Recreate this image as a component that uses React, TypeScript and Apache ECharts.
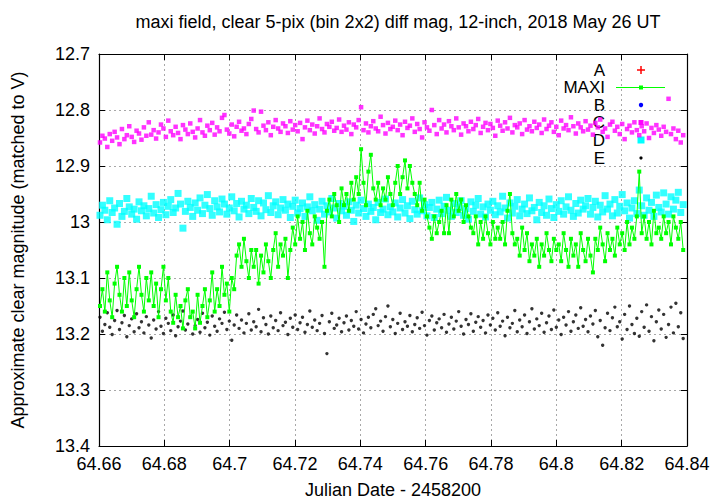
import React, { useEffect, useRef } from "react";
import * as echarts from "echarts";

// Observation grid: frames start at JD-2458200 = 64.6603, with a steady cadence
const START_JD = 64.6603;
const CADENCE = 0.000747;

const TITLE = "maxi field, clear 5-pix (bin 2x2) diff mag, 12-inch, 2018 May 26 UT";
const X_NAME = "Julian Date - 2458200";
const Y_NAME = "Approximate clear magnitude (matched to V)";
const LEGEND_NAMES = ["A", "MAXI", "B", "C", "D", "E"];

const maxiMag = [
  13.15, 13.12, 13.16, 13.09, 13.14, 13.17, 13.11, 13.08, 13.13, 13.16, 13.10, 13.15, 13.09, 13.14, 13.17, 13.12, 13.08, 13.13, 13.16, 13.10, 13.14, 13.09, 13.15, 13.11, 13.17, 13.12, 13.08, 13.14, 13.10, 13.16,
  13.18, 13.13, 13.17, 13.15, 13.19, 13.14, 13.12, 13.17, 13.16, 13.19, 13.13, 13.18, 13.15, 13.12, 13.17,
  13.14, 13.09, 13.16, 13.12, 13.15, 13.08, 13.13, 13.11, 13.16, 13.10, 13.12,
  13.06, 13.04, 13.08, 13.03, 13.07, 13.10, 13.05,
  13.08, 13.05, 13.11, 13.06, 13.09, 13.04, 13.07, 13.10,
  13.05, 13.02, 13.08, 13.04, 13.06, 13.03, 13.10, 13.05,
  13.01, 13.04, 12.99, 13.03, 13.00, 13.05, 12.98, 13.02, 13.04, 12.99, 13.01, 13.03, 13.00, 13.08,
  12.98, 12.96, 12.99, 12.95, 12.97, 13.00, 12.94, 12.97, 12.95, 12.98, 12.93, 12.96,
  12.92, 12.95, 12.87, 12.93, 12.97, 12.91, 12.88, 12.94,
  12.96, 12.93, 12.97, 12.94, 12.96, 12.92, 12.95, 12.97,
  12.93, 12.90, 12.95, 12.92, 12.89, 12.94, 12.90, 12.93,
  12.95, 12.97, 12.93, 12.98, 12.96, 12.99,
  13.01, 13.03, 12.99, 13.02, 13.00, 12.98, 13.02,
  12.97, 13.02, 12.96, 12.99, 12.95, 12.98, 12.96, 13.00, 12.97, 12.99, 13.01,
  13.02, 12.99, 13.04, 13.00, 13.03, 12.99, 13.02, 13.04, 13.00, 13.03,
  13.01, 13.03, 13.00, 13.04, 12.98, 12.95, 13.02, 13.04,
  13.03, 13.06, 13.01, 13.05, 13.02, 13.07, 13.04, 13.06,
  13.03, 13.08, 13.04, 13.06, 13.02, 13.05, 13.07, 13.03, 13.05,
  13.04, 13.07, 13.02, 13.05, 13.08, 13.03, 13.06, 13.04, 13.08, 13.02, 13.05, 13.07, 13.03,
  13.06, 13.09, 13.03, 13.05, 13.01, 13.04, 13.07, 13.02, 13.05, 13.03, 13.06, 13.01, 13.04,
  13.02, 13.05, 13.00, 13.04, 13.01, 13.03, 12.99,
  12.91,
  13.02, 12.99, 13.03, 13.00, 13.04, 12.98, 13.02, 13.01, 13.03, 12.99, 13.02, 13.00, 13.04, 12.99, 13.01, 13.03, 13.00, 13.05,
];

const cMag = [
  12.858, 12.846, 12.851, 12.866, 12.843, 12.855, 12.839, 12.849, 12.861, 12.834, 12.852, 12.845, 12.829, 12.848, 12.857, 12.837, 12.842, 12.853, 12.831, 12.846,
  12.822, 12.844, 12.836, 12.851, 12.840, 12.826, 12.833, 12.848, 12.819, 12.838, 12.845, 12.830, 12.841, 12.852, 12.827, 12.835, 12.843, 12.824, 12.839, 12.849,
  12.833, 12.818, 12.840, 12.846, 12.828, 12.836, 12.823, 12.844, 12.831, 12.838, 12.814, 12.809, 12.835, 12.842, 12.826, 12.847, 12.830, 12.821, 12.837, 12.833,
  12.843, 12.825, 12.816, 12.801, 12.834, 12.840, 12.803, 12.828, 12.836, 12.822, 12.845, 12.830, 12.818, 12.833, 12.839, 12.824, 12.829, 12.841, 12.820, 12.835,
  12.827, 12.838, 12.823, 12.852, 12.831, 12.819, 12.836, 12.826, 12.842, 12.829, 12.815, 12.834, 12.840, 12.825, 12.830, 12.821, 12.837, 12.832, 12.817, 12.839,
  12.828, 12.835, 12.822, 12.843, 12.826, 12.831, 12.818, 12.795, 12.836, 12.824, 12.840, 12.829, 12.820, 12.833, 12.838, 12.812, 12.827, 12.842, 12.823, 12.834,
  12.830, 12.819, 12.836, 12.826, 12.845, 12.821, 12.832, 12.828, 12.815, 12.839, 12.825, 12.834, 12.849, 12.822, 12.831, 12.837, 12.800, 12.827, 12.843, 12.818,
  12.833, 12.826, 12.840, 12.820, 12.829, 12.836, 12.815, 12.831, 12.844, 12.824, 12.829, 12.838, 12.821, 12.834, 12.827, 12.816, 12.841, 12.830, 12.823, 12.836,
  12.825, 12.832, 12.846, 12.819, 12.828, 12.837, 12.822, 12.833, 12.814, 12.840, 12.827, 12.831, 12.824, 12.843, 12.818, 12.835, 12.829, 12.838, 12.821, 12.832,
  12.826, 12.841, 12.817, 12.834, 12.828, 12.822, 12.839, 12.830, 12.845, 12.819, 12.833, 12.827, 12.836, 12.813, 12.829, 12.842, 12.824, 12.831, 12.838, 12.820,
  12.835, 12.828, 12.844, 12.823, 12.831, 12.817, 12.839, 12.833, 12.848, 12.826, 12.821, 12.837, 12.830, 12.843, 12.825, 12.852, 12.834, 12.828, 12.840, 12.822,
  12.836, 12.845, 12.829, 12.838, 12.824, 12.850, 12.832, 12.841, 12.827, 12.835, 12.846, 12.830, 12.839, 12.780, 12.843, 12.833, 12.852, 12.837, 12.858, 12.845,
];

const dMag = [
  12.988, 12.970, 12.979, 12.996, 12.962, 12.983, 12.975, 13.004, 12.967, 12.990, 12.981, 12.958, 12.973, 12.986, 12.977, 12.995, 12.964, 12.980, 12.971, 12.989,
  12.976, 12.954, 12.984, 12.969, 12.992, 12.978, 12.965, 12.987, 12.972, 12.960, 12.983, 12.975, 12.949, 12.968, 13.011, 12.981, 12.963, 12.974, 12.990, 12.966,
  12.979, 12.957, 12.985, 12.970, 12.951, 12.976, 12.988, 12.962, 12.973, 12.982, 12.959, 12.968, 12.986, 12.975, 12.955, 12.980, 12.967, 12.991, 12.963, 12.977,
  12.970, 12.985, 12.958, 12.974, 12.981, 12.962, 12.989, 12.966, 12.978, 12.953, 12.983, 12.971, 12.964, 12.987, 12.975, 12.960, 12.979, 12.968, 12.992, 12.972,
  12.961, 12.984, 12.976, 12.966, 12.990, 12.973, 12.955, 12.980, 12.969, 12.997, 12.977, 12.963, 12.986, 12.971, 12.982, 12.958, 12.975, 12.993, 12.967, 12.980,
  12.972, 12.988, 12.964, 12.979, 12.999, 12.970, 12.984, 12.961, 12.976, 12.990, 12.968, 12.981, 12.974, 12.996, 12.965, 12.983, 12.977, 12.959, 12.987, 12.973,
  12.982, 12.966, 12.991, 12.975, 12.960, 12.984, 12.971, 12.994, 12.963, 12.978, 12.986, 12.957, 12.980, 12.969, 12.989, 12.974, 12.965, 12.992, 12.977, 12.961,
  12.985, 12.972, 12.956, 12.979, 12.990, 12.967, 12.983, 12.974, 12.962, 12.988, 12.976, 12.995, 12.964, 12.981, 12.970, 12.958, 12.986, 12.973, 12.991, 12.968,
  12.979, 12.963, 12.987, 12.971, 12.982, 12.954, 12.975, 12.993, 12.966, 12.984, 12.972, 12.960, 12.989, 12.977, 12.968, 12.985, 12.957, 12.980, 12.974, 12.996,
  12.965, 12.983, 12.971, 12.988, 12.959, 12.976, 12.992, 12.969, 12.981, 12.962, 12.986, 12.973, 12.955, 12.979, 12.990, 12.967, 12.984, 12.961, 12.977, 12.971,
  12.958, 12.986, 12.974, 12.963, 12.991, 12.970, 12.982, 12.953, 12.977, 12.968, 12.989, 12.960, 12.984, 12.972, 12.951, 12.980, 12.966, 12.993, 12.975, 12.962,
  12.985, 12.943, 12.971, 12.988, 12.957, 12.979, 12.965, 12.990, 12.952, 12.974, 12.982, 12.948, 12.968, 12.986, 12.955, 12.977, 12.961, 12.947, 12.983, 12.969,
];

const eMag = [
  13.170, 13.195, 13.183, 13.162, 13.188, 13.201, 13.176, 13.158, 13.192, 13.180, 13.167, 13.205, 13.185, 13.173, 13.196, 13.164, 13.189, 13.178, 13.198, 13.169,
  13.184, 13.207, 13.175, 13.191, 13.160, 13.186, 13.199, 13.172, 13.181, 13.194, 13.166, 13.203, 13.187, 13.177, 13.159, 13.193, 13.182, 13.170, 13.200, 13.185,
  13.174, 13.197, 13.163, 13.189, 13.179, 13.202, 13.168, 13.186, 13.195, 13.173, 13.181, 13.161, 13.192, 13.177, 13.211, 13.184, 13.166, 13.190, 13.175, 13.198,
  13.181, 13.164, 13.193, 13.178, 13.187, 13.156, 13.196, 13.171, 13.183, 13.200, 13.168, 13.189, 13.176, 13.194, 13.162, 13.185, 13.179, 13.201, 13.172, 13.188,
  13.166, 13.192, 13.180, 13.170, 13.197, 13.183, 13.159, 13.188, 13.175, 13.194, 13.181, 13.167, 13.199, 13.235, 13.178, 13.163, 13.190, 13.184, 13.172, 13.196,
  13.180, 13.168, 13.193, 13.176, 13.186, 13.160, 13.191, 13.174, 13.198, 13.182, 13.170, 13.189, 13.165, 13.155, 13.185, 13.177, 13.195, 13.169, 13.150, 13.187,
  13.174, 13.199, 13.181, 13.163, 13.192, 13.178, 13.186, 13.167, 13.196, 13.183, 13.171, 13.190, 13.161, 13.185, 13.202, 13.176, 13.168, 13.193, 13.180, 13.173,
  13.189, 13.165, 13.197, 13.182, 13.170, 13.191, 13.177, 13.160, 13.186, 13.200, 13.174, 13.183, 13.164, 13.195, 13.179, 13.169, 13.188, 13.176, 13.198, 13.166,
  13.184, 13.172, 13.193, 13.162, 13.186, 13.177, 13.203, 13.170, 13.189, 13.181, 13.158, 13.196, 13.175, 13.187, 13.166, 13.199, 13.178, 13.155, 13.191, 13.173,
  13.185, 13.163, 13.197, 13.180, 13.168, 13.192, 13.157, 13.188, 13.175, 13.201, 13.170, 13.184, 13.160, 13.195, 13.178, 13.166, 13.190, 13.153, 13.186, 13.174,
  13.196, 13.168, 13.182, 13.158, 13.205, 13.176, 13.220, 13.189, 13.163, 13.194, 13.171, 13.152, 13.187, 13.178, 13.209, 13.165, 13.192, 13.150, 13.183, 13.199,
  13.172, 13.204, 13.160, 13.188, 13.148, 13.195, 13.169, 13.212, 13.178, 13.157, 13.191, 13.165, 13.206, 13.183, 13.152, 13.198, 13.145, 13.187, 13.162, 13.208,
];

const aMag: number[] = [];
const bMag: number[] = [];

const FONT = "'Liberation Sans', Arial, Helvetica, sans-serif";
const FS = 18;
const LEG_FS = 17;

function pairs(vals: number[]) {
  return vals.map((v, i) => [START_JD + i * CADENCE, v]);
}

export default function App() {
  const ref = useRef<HTMLDivElement>(null);
  useEffect(() => {
    if (!ref.current) return;
    const chart = echarts.init(ref.current, undefined, { renderer: "svg" });
    const gridLine = { show: true, lineStyle: { color: "#a8a8a8", type: [2, 3] as any, width: 1 } };
    const axisLine = { show: true, lineStyle: { color: "#000", width: 1.2 } };
    const tick = { show: true, inside: true, length: 6, lineStyle: { color: "#000", width: 1 } };
    const xFmt = (v: number) => String(Math.round(v * 100) / 100);
    const yFmt = (v: number) => String(Math.round(v * 10) / 10);

    const legendX = 605;
    const symX = 641;
    const rowY = [70, 87.5, 105, 122.5, 140, 158];
    const legendGraphics: any[] = LEGEND_NAMES.map((n, k) => ({
      type: "text",
      x: legendX,
      y: rowY[k],
      style: {
        text: n, fill: "#000", fontSize: LEG_FS, fontFamily: FONT,
        textAlign: "right", textVerticalAlign: "middle", verticalAlign: "middle",
      },
    }));
    legendGraphics.push(
      { type: "line", shape: { x1: symX - 4, y1: rowY[0], x2: symX + 4, y2: rowY[0] }, style: { stroke: "#ff0000", lineWidth: 1.5 } },
      { type: "line", shape: { x1: symX, y1: rowY[0] - 4, x2: symX, y2: rowY[0] + 4 }, style: { stroke: "#ff0000", lineWidth: 1.5 } },
      { type: "line", shape: { x1: symX - 25, y1: rowY[1], x2: symX + 24, y2: rowY[1] }, style: { stroke: "#00ff00", lineWidth: 1 } },
      { type: "rect", shape: { x: symX - 2, y: rowY[1] - 2, width: 4, height: 4 }, style: { fill: "#00ff00" } },
      { type: "circle", shape: { cx: symX, cy: rowY[2], r: 2.2 }, style: { fill: "#0000ff" } },
      { type: "rect", shape: { x: symX - 2.5, y: rowY[3] - 2.5, width: 5, height: 5 }, style: { fill: "#ff00ff" } },
      { type: "rect", shape: { x: symX - 3.5, y: rowY[4] - 3.5, width: 7, height: 7 }, style: { fill: "#00ffff" } },
      { type: "circle", shape: { cx: symX, cy: rowY[5], r: 1.6 }, style: { fill: "#000" } },
    );

    chart.setOption({
      animation: false,
      backgroundColor: "#fff",
      title: {
        text: TITLE, left: 393, top: 8, textAlign: "center",
        textStyle: { fontSize: FS, fontWeight: "normal", color: "#000", fontFamily: FONT },
      },
      grid: { left: 99, right: 33, top: 54, bottom: 58, containLabel: false },
      xAxis: [
        {
          type: "value", min: 64.66, max: 64.84, interval: 0.02, position: "bottom",
          name: X_NAME, nameLocation: "middle", nameGap: 35,
          nameTextStyle: { fontSize: FS, color: "#000", fontFamily: FONT },
          axisLine, axisTick: tick, splitLine: gridLine,
          axisLabel: { formatter: xFmt, fontSize: FS, color: "#000", fontFamily: FONT, margin: 9 },
        },
        {
          type: "value", min: 64.66, max: 64.84, interval: 0.02, position: "top",
          axisLine, axisTick: tick, splitLine: { show: false }, axisLabel: { show: false },
        },
      ],
      yAxis: [
        {
          type: "value", min: 12.7, max: 13.4, interval: 0.1, inverse: true, position: "left",
          name: Y_NAME, nameLocation: "middle", nameGap: 72, nameRotate: 90,
          nameTextStyle: { fontSize: FS, color: "#000", fontFamily: FONT },
          axisLine, axisTick: tick, splitLine: gridLine,
          axisLabel: { formatter: yFmt, fontSize: FS, color: "#000", fontFamily: FONT, margin: 9 },
        },
        {
          type: "value", min: 12.7, max: 13.4, interval: 0.1, inverse: true, position: "right",
          axisLine, axisTick: tick, splitLine: { show: false }, axisLabel: { show: false },
        },
      ],
      graphic: legendGraphics,
      series: [
        { name: "A", type: "scatter", data: pairs(aMag), symbol: "rect", symbolSize: 4, itemStyle: { color: "#ff0000" } },
        {
          name: "MAXI", type: "line", data: pairs(maxiMag), symbol: "rect", symbolSize: 4, showSymbol: true,
          lineStyle: { color: "#00ff00", width: 1 }, itemStyle: { color: "#00ff00" },
        },
        { name: "B", type: "scatter", data: pairs(bMag), symbol: "circle", symbolSize: 4, itemStyle: { color: "#0000ff" } },
        { name: "C", type: "scatter", data: pairs(cMag), symbol: "rect", symbolSize: 4.5, itemStyle: { color: "#ff00ff" } },
        { name: "D", type: "scatter", data: pairs(dMag), symbol: "rect", symbolSize: 7, itemStyle: { color: "#00ffff" } },
        { name: "E", type: "scatter", data: pairs(eMag), symbol: "circle", symbolSize: 3.4, itemStyle: { color: "#000000" } },
      ],
    });
    return () => chart.dispose();
  }, []);
  return <div ref={ref} style={{ width: 720, height: 504, position: "absolute", left: 0, top: 0 }} />;
}
